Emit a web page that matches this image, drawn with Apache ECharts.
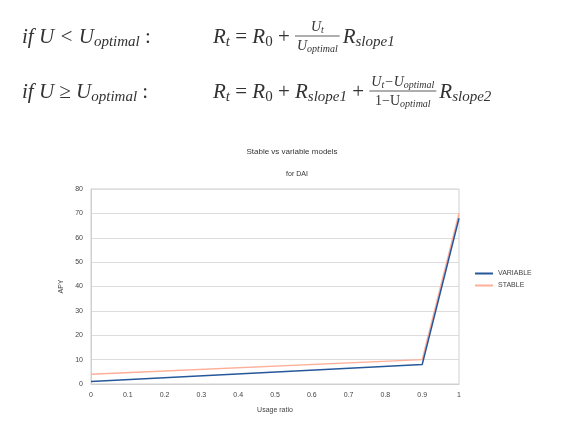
<!DOCTYPE html>
<html><head><meta charset="utf-8">
<script src="https://cdn.jsdelivr.net/npm/echarts@6/dist/echarts.min.js"></script>
<style>html,body{margin:0;background:#fff}#c{width:574px;height:421px}</style>
</head><body><div id="c"></div>
<script>
var usage = [0, 0.9, 1];
var variableApy = [1, 8, 68];
var stableApy = [4, 10, 70];
var xTicks = [0, 0.1, 0.2, 0.3, 0.4, 0.5, 0.6, 0.7, 0.8, 0.9, 1];

var chart = echarts.init(document.getElementById('c'));
var ctx = document.createElement('canvas').getContext('2d');
var FAM = '"Liberation Serif", serif';
var INK = '#333';

function fontOf(p) { return (p[3] ? 'italic ' : '') + p[1] + 'px ' + FAM; }
function width(parts) {
  var w = 0;
  parts.forEach(function (p) { ctx.font = fontOf(p); w += ctx.measureText(p[0]).width; });
  return w;
}
// parts: [text, size, dy, italic]
function run(out, x, y, parts) {
  parts.forEach(function (p) {
    out.push({ type: 'text', x: x, y: y + p[2], style: {
      text: p[0], fontSize: p[1], fontFamily: FAM, fontStyle: p[3] ? 'italic' : 'normal',
      fill: INK, verticalAlign: 'middle' } });
    ctx.font = fontOf(p); x += ctx.measureText(p[0]).width;
  });
  return x;
}
function frac(out, x, y, num, den) {
  var w = Math.max(width(num), width(den)) + 4;
  run(out, x + (w - width(num)) / 2, y - 10, num);
  run(out, x + (w - width(den)) / 2, y + 9, den);
  out.push({ type: 'line', shape: { x1: x, y1: y - 1, x2: x + w, y2: y - 1 }, style: { stroke: INK, lineWidth: 0.8 } });
  return x + w + 3;
}
var S = 21, s = 15, fs = 14, ff = 10;
var SP = '\u2005';
var EQ = SP + '=' + SP, PL = SP + '+' + SP;
var g = [];
var x;
// line 1
run(g, 22, 37, [['if', S, 0, 1], [SP + 'U' + SP + '<' + SP + 'U', S, 0, 1], ['optimal', s, 5, 1], [SP + ':', S, 0, 0]]);
x = run(g, 213, 37, [['R', S, 0, 1], ['t', s, 5, 1], [EQ, S, 0, 0], ['R', S, 0, 1], ['0', s, 5, 0], [PL, S, 0, 0]]);
x = frac(g, x, 37, [['U', fs, 0, 1], ['t', ff, 3, 1]], [['U', fs, 0, 1], ['optimal', ff, 3, 1]]);
run(g, x, 37, [['R', S, 0, 1], ['slope1', s, 5, 1]]);
// line 2
run(g, 22, 92, [['if', S, 0, 1], [SP + 'U' + SP + '≥' + SP + 'U', S, 0, 1], ['optimal', s, 5, 1], [SP + ':', S, 0, 0]]);
x = run(g, 213, 92, [['R', S, 0, 1], ['t', s, 5, 1], [EQ, S, 0, 0], ['R', S, 0, 1], ['0', s, 5, 0], [PL, S, 0, 0],
  ['R', S, 0, 1], ['slope1', s, 5, 1], [PL, S, 0, 0]]);
x = frac(g, x, 92, [['U', fs, 0, 1], ['t', ff, 3, 1], ['−U', fs, 0, 1], ['optimal', ff, 3, 1]],
  [['1−U', fs, 0, 0], ['optimal', ff, 3, 1]]);
run(g, x, 92, [['R', S, 0, 1], ['slope2', s, 5, 1]]);

function pairs(ys) { return usage.map(function (u, i) { return [u, ys[i]]; }); }
var axisFont = { fontSize: 7, color: '#444', fontFamily: 'Liberation Sans' };

chart.setOption({
  animation: false,
  title: [
    { text: 'Stable vs variable models', left: 287, top: 143, textAlign: 'center',
      textStyle: { fontSize: 8, fontWeight: 'normal', color: '#333', fontFamily: 'Liberation Sans' } },
    { text: 'for DAI', left: 292, top: 166, textAlign: 'center',
      textStyle: { fontSize: 7, fontWeight: 'normal', color: '#333', fontFamily: 'Liberation Sans' } }
  ],
  graphic: g,
  legend: {
    orient: 'vertical', left: 470, top: 265, itemWidth: 18, itemHeight: 2, itemGap: 5,
    icon: 'rect', textStyle: { fontSize: 7, color: '#444', fontFamily: 'Liberation Sans' },
    data: ['VARIABLE', 'STABLE']
  },
  grid: { left: 91, right: 115, top: 189, bottom: 37, show: true, borderColor: '#d0d0d0', borderWidth: 1 },
  xAxis: {
    type: 'value', min: 0, max: 1, interval: 0.1, name: 'Usage ratio', nameLocation: 'middle', nameGap: 23,
    nameTextStyle: axisFont,
    axisLine: { lineStyle: { color: '#d0d0d0' } }, axisTick: { show: false }, splitLine: { show: false },
    axisLabel: Object.assign({ formatter: function (v) { return String(+v.toFixed(1)); } }, axisFont)
  },
  yAxis: {
    type: 'value', min: 0, max: 80, interval: 10, name: 'APY', nameLocation: 'middle', nameGap: 26,
    nameTextStyle: axisFont,
    axisLine: { show: true, lineStyle: { color: '#d0d0d0' } }, axisTick: { show: false },
    splitLine: { lineStyle: { color: '#dcdcdc' } }, axisLabel: axisFont
  },
  series: [
    { name: 'VARIABLE', type: 'line', data: pairs(variableApy), showSymbol: false,
      lineStyle: { color: '#25589a', width: 1.5 }, itemStyle: { color: '#25589a' }, z: 3 },
    { name: 'STABLE', type: 'line', data: pairs(stableApy), showSymbol: false,
      lineStyle: { color: '#ffae98', width: 1.5 }, itemStyle: { color: '#ffae98' }, z: 2 }
  ]
});
</script></body></html>
